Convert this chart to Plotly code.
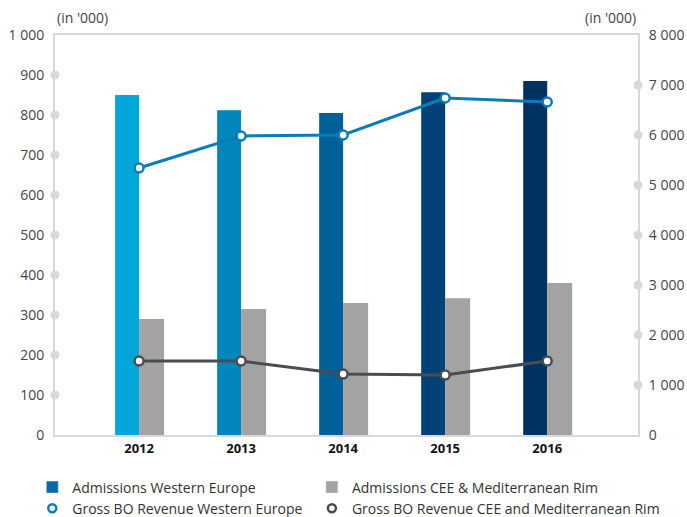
import plotly.graph_objects as go

years = ["2012", "2013", "2014", "2015", "2016"]
adm_we = [850, 812, 805, 857, 885]
adm_cee = [290, 315, 330, 342, 380]
rev_we = [5340, 5980, 6000, 6740, 6660]
rev_cee = [1480, 1480, 1220, 1200, 1480]

left_ticks = [0, 100, 200, 300, 400, 500, 600, 700, 800, 900, 1000]
left_text = ["0", "100", "200", "300", "400", "500", "600", "700", "800", "900", "1 000"]
right_ticks = [0, 1000, 2000, 3000, 4000, 5000, 6000, 7000, 8000]
right_text = ["0", "1 000", "2 000", "3 000", "4 000", "5 000", "6 000", "7 000", "8 000"]

xpos = list(range(len(years)))
XMIN, XMAX = -0.824, 4.89

we_colors = ["#00a7d8", "#0086b9", "#006198", "#004275", "#003262"]
grey = "#a3a3a3"
line_blue = "#0a7db8"
line_dark = "#464e54"
axis_grey = "#d9d9d9"

fig = go.Figure()

fig.add_trace(go.Bar(x=xpos, y=adm_we, offset=-0.235, width=0.235,
                     marker=dict(color=we_colors, line=dict(width=0)),
                     showlegend=False, hoverinfo="skip"))
fig.add_trace(go.Bar(x=xpos, y=adm_cee, offset=0.0, width=0.245,
                     marker=dict(color=grey, line=dict(width=0)),
                     showlegend=False, hoverinfo="skip"))

# axis dots
fig.add_trace(go.Scatter(x=[XMIN] * 9, y=left_ticks[1:10], mode="markers",
                         marker=dict(size=9, color=axis_grey), cliponaxis=False,
                         showlegend=False, hoverinfo="skip"))
fig.add_trace(go.Scatter(x=[XMAX] * 7, y=right_ticks[1:8], mode="markers", yaxis="y2",
                         marker=dict(size=9, color=axis_grey), cliponaxis=False,
                         showlegend=False, hoverinfo="skip"))

fig.add_trace(go.Scatter(x=xpos, y=rev_we, yaxis="y2", mode="lines+markers",
                         line=dict(color=line_blue, width=3),
                         marker=dict(size=9, color="white", line=dict(color=line_blue, width=2.5)),
                         cliponaxis=False, showlegend=False))
fig.add_trace(go.Scatter(x=xpos, y=rev_cee, yaxis="y2", mode="lines+markers",
                         line=dict(color=line_dark, width=3),
                         marker=dict(size=9, color="white", line=dict(color=line_dark, width=2.5)),
                         cliponaxis=False, showlegend=False))

# legend-only entries (two legends = two columns)
fig.add_trace(go.Bar(x=[None], y=[None], name="Admissions Western Europe",
                     marker=dict(color="#0a6aa6"), legend="legend"))
fig.add_trace(go.Scatter(x=[None], y=[None], mode="markers", name="Gross BO Revenue Western Europe",
                         marker=dict(size=8, color="white", line=dict(color=line_blue, width=2.5)),
                         legend="legend"))
fig.add_trace(go.Bar(x=[None], y=[None], name="Admissions CEE &amp; Mediterranean Rim",
                     marker=dict(color=grey), legend="legend2"))
fig.add_trace(go.Scatter(x=[None], y=[None], mode="markers", name="Gross BO Revenue CEE and Mediterranean Rim",
                         marker=dict(size=8, color="white", line=dict(color=line_dark, width=2.5)),
                         legend="legend2"))

legend_common = dict(orientation="v", xref="container", yref="container",
                     xanchor="left", y=0.088, yanchor="top",
                     font=dict(size=14, color="#333"), traceorder="normal",
                     itemwidth=30, bgcolor="rgba(0,0,0,0)")

fig.update_layout(
    width=687, height=517,
    margin=dict(l=55, r=49, t=35, b=82, autoexpand=False),
    plot_bgcolor="white", paper_bgcolor="white",
    barmode="overlay",
    font=dict(family="Open Sans", size=14, color="#444"),
    xaxis=dict(range=[XMIN, XMAX], tickvals=xpos, ticktext=years,
               tickfont=dict(size=13, color="#111", family="Open Sans", weight="bold"),
               showgrid=False, zeroline=False, showline=True, linecolor=axis_grey,
               linewidth=2, mirror=True, ticks="", automargin=False),
    yaxis=dict(range=[0, 1000], tickvals=left_ticks, ticktext=left_text,
               showgrid=False, zeroline=False, showline=True, linecolor=axis_grey,
               linewidth=2, ticks="", ticklabelstandoff=6, automargin=False),
    yaxis2=dict(range=[0, 8000], tickvals=right_ticks, ticktext=right_text,
                overlaying="y", side="right",
                showgrid=False, zeroline=False, showline=True, linecolor=axis_grey,
                linewidth=2, ticks="", ticklabelstandoff=6, automargin=False),
    legend=dict(x=0.047, **legend_common),
    legend2=dict(x=0.454, **legend_common),
    annotations=[
        dict(text="(in '000)", xref="paper", yref="paper", x=0, y=1, yshift=6,
             xanchor="left", yanchor="bottom", showarrow=False, font=dict(size=14, color="#444")),
        dict(text="(in '000)", xref="paper", yref="paper", x=1, y=1, yshift=6,
             xanchor="right", yanchor="bottom", showarrow=False, font=dict(size=14, color="#444")),
    ],
)

fig.write_html("out.html", config={"displayModeBar": False},
               post_script="document.body.style.margin='0';document.body.style.overflow='hidden';")
